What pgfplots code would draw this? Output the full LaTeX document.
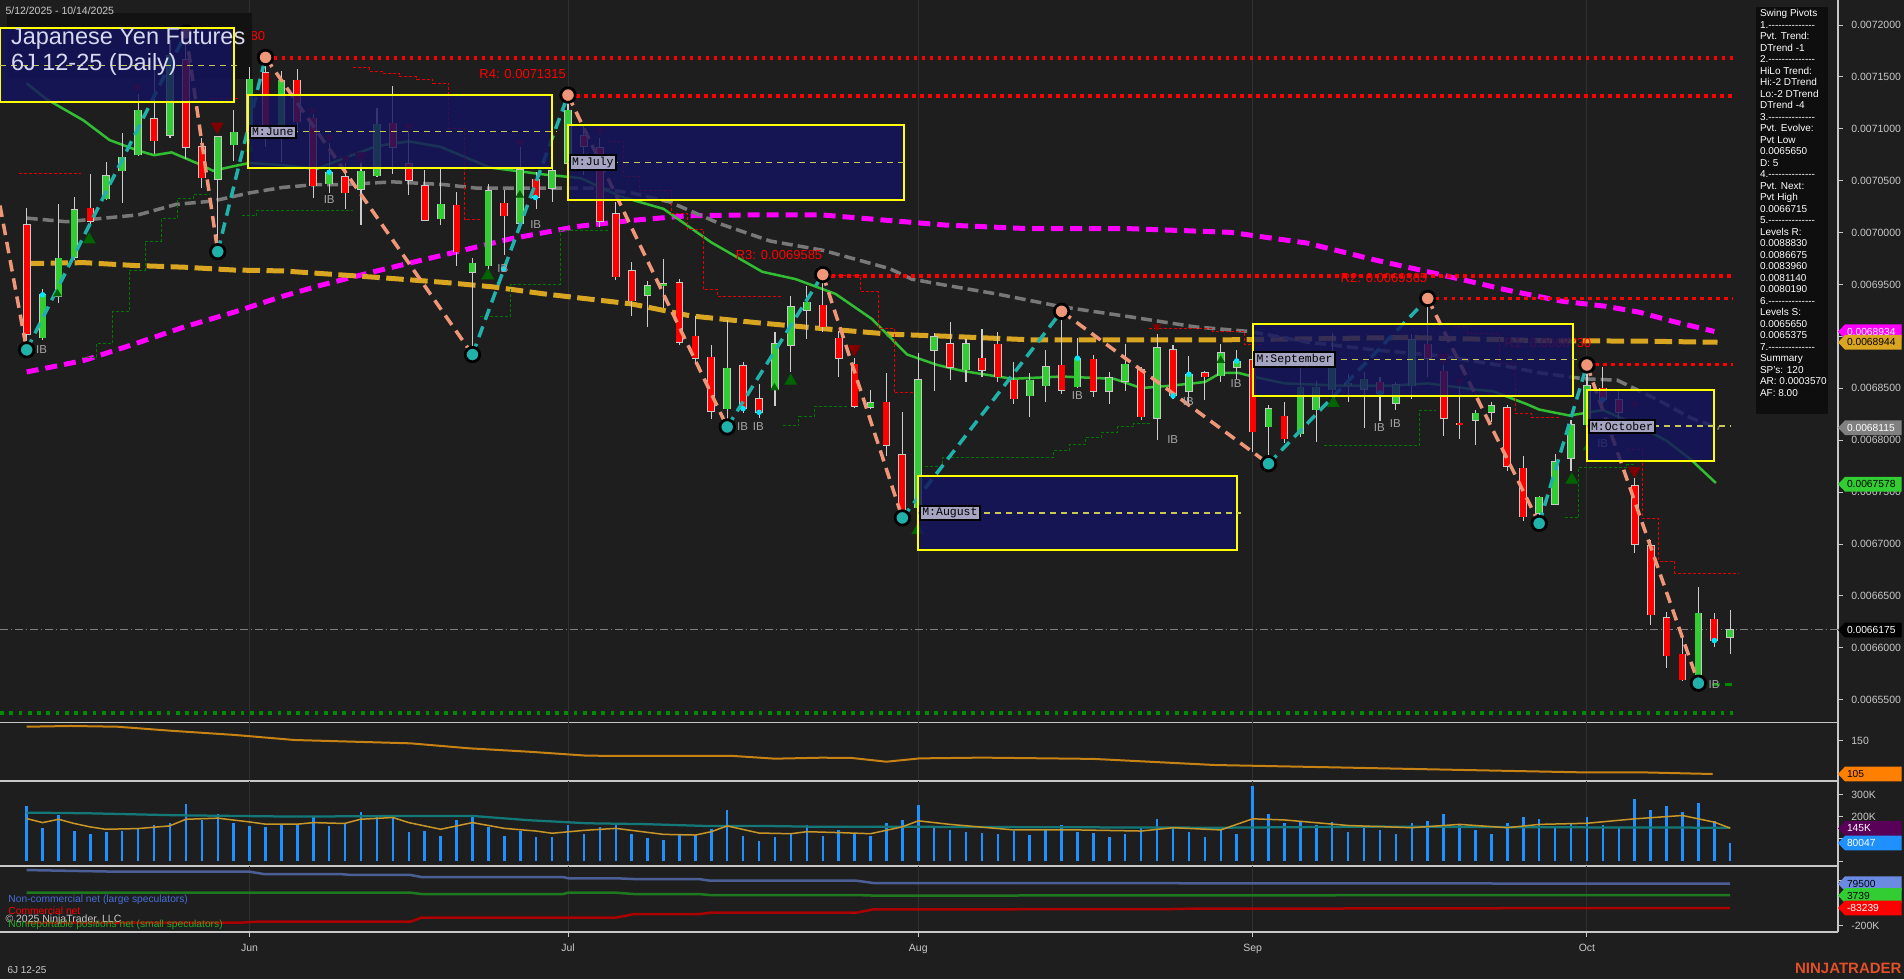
\documentclass[border=0pt]{standalone}
\usepackage{pgfplots}
\pgfplotsset{compat=1.18}
\usepackage{pgfplotstable}
\usepackage{fontspec}
\setmainfont{Liberation Sans}
\newfontfamily\monof{Liberation Mono}

\definecolor{bg}{RGB}{30,30,30}
\definecolor{cgreen}{RGB}{50,205,50}
\definecolor{cred}{RGB}{255,0,0}
\definecolor{wick}{RGB}{205,205,205}
\definecolor{bodyedge}{RGB}{200,200,200}
\definecolor{boxfill}{RGB}{20,20,95}
\definecolor{boxyel}{RGB}{255,255,0}
\definecolor{midyel}{RGB}{200,200,80}
\definecolor{salmonz}{RGB}{240,150,120}
\definecolor{tealz}{RGB}{32,178,170}
\definecolor{magz}{RGB}{255,0,255}
\definecolor{goldz}{RGB}{218,165,32}
\definecolor{grayma}{RGB}{120,120,120}
\definecolor{ma20}{RGB}{50,190,50}
\definecolor{axgray}{RGB}{200,200,200}
\definecolor{gridc}{RGB}{48,48,48}
\definecolor{lvlred}{RGB}{255,0,0}
\definecolor{sgreen}{RGB}{0,140,0}
\definecolor{stepred}{RGB}{230,0,0}
\definecolor{stepgreen}{RGB}{0,120,0}
\definecolor{dgreen}{RGB}{0,100,0}
\definecolor{dred}{RGB}{128,0,0}
\definecolor{ibgray}{RGB}{165,165,165}
\definecolor{labfill}{RGB}{165,165,195}
\definecolor{titlec}{RGB}{215,215,240}
\definecolor{titlebg}{RGB}{18,18,18}
\definecolor{volblue}{RGB}{30,144,255}
\definecolor{volorange}{RGB}{200,150,40}
\definecolor{volteal}{RGB}{20,120,120}
\definecolor{adxorange}{RGB}{200,130,20}
\definecolor{cotblue}{RGB}{70,110,220}
\definecolor{cotbluel}{RGB}{75,95,150}
\definecolor{cotgreen}{RGB}{40,170,40}
\definecolor{cotgreenl}{RGB}{30,120,30}
\definecolor{cotred}{RGB}{170,0,0}
\definecolor{pivbox}{RGB}{14,14,14}
\definecolor{ninja}{RGB}{225,80,40}
\definecolor{cyandot}{RGB}{0,230,255}

\newcommand\tickfont{\fontsize{4.2}{4.2}\selectfont}
\newcommand\rfont{\fontsize{5.2}{5.2}\selectfont}
\def\h{-\kern0pt}
\newcommand\dl{\h\h\h\h\h\h\h\h\h\h\h\h\h\h}

\newcommand\ptag[4]{%
  \fill[#2] (735.2pt,{(979-#1)*0.4pt}) -- ++(2.8pt,2.95pt) -- ++(22.6pt,0pt) -- ++(0pt,-5.9pt) -- ++(-22.6pt,0pt) -- cycle;
  \node[anchor=west, inner sep=0pt, text=#3, font=\fontsize{4.1}{4.1}\selectfont] at (738.6pt,{(979-#1)*0.4pt}) {#4};}

\pgfplotsset{
  panel/.style={
    scale only axis, width=735.2pt, anchor=north west,
    xmin=-1.677, xmax=113.77,
    axis x line*=bottom, axis y line*=right,
    axis line style={draw=axgray, line width=0.5pt},
    tick align=outside, major tick length=1.8pt,
    tick style={draw=axgray, line width=0.4pt},
    xtick={14,34,56,77,98}, xticklabels={},
    x tick style={draw=none},
    xmajorgrids, grid style={draw=gridc, line width=0.4pt},
    yticklabel style={font=\tickfont, text=axgray},
    clip mode=individual,
    /pgf/number format/assume math mode=true,
    scaled y ticks=false,
  },
  zz/.style={line width=1.4pt, dash pattern=on 4.6pt off 2.8pt},
  lvl/.style={lvlred, line width=1.5pt, dash pattern=on 1.5pt off 1.7pt},
  stp/.style={stepred, line width=0.4pt, dash pattern=on 1.2pt off 0.8pt, const plot},
  stpg/.style={stepgreen, line width=0.4pt, dash pattern=on 1.2pt off 0.8pt, const plot},
  mbox/.style={fill=boxfill, fill opacity=0.82, draw=boxyel, line width=0.8pt},
  mmid/.style={midyel, line width=0.6pt, dash pattern=on 2.4pt off 2pt},
  ebar/.style={draw=none, mark=none, error bars/y dir=both, error bars/y explicit, error bars/error mark=none},
}

\pgfplotstableread{
i O H L C
0 70074 70242 68946 69021
1 68990 69454 68968 69401
2 69388 70273 69322 69755
3 69764 70348 69742 70220
4 70237 70569 70074 70109
5 70330 70684 70313 70551
6 70596 70958 70286 70728
7 70751 71334 70737 71180
8 71100 71578 70759 70888
9 70936 71856 70914 71710
10 71666 71923 70715 70826
11 70826 70914 70428 70529
12 70516 70936 69875 70923
13 70848 71180 70693 70967
14 70914 71600 70781 71480
15 71542 71680 70826 70958
16 70914 71555 70684 71467
17 71467 71578 70958 71069
18 71100 71180 70330 70450
19 70472 70861 70383 70582
20 70538 70671 70228 70383
21 70419 70693 70074 70591
22 70551 71202 70538 71047
23 71056 71414 70569 70826
24 70666 70980 70361 70503
25 70450 70604 70109 70118
26 70136 70613 70074 70273
27 70264 70392 69676 69817
28 69618 69755 68857 69707
29 69684 70472 69631 70406
30 70282 70406 69786 70162
31 70091 70826 70074 70605
32 70516 70582 70228 70339
33 70428 70826 70295 70596
34 70671 71315 70649 71180
35 70936 71047 70560 70835
36 70817 70914 70051 70109
37 70184 70295 69543 69578
38 69631 69720 69198 69344
39 69397 69534 69092 69490
40 69490 69742 69278 69507
41 69521 69552 68915 68946
42 69003 69198 68747 68791
43 68800 68915 68207 68282
44 68305 69154 68105 68694
45 68716 68756 68260 68305
46 68402 68548 68216 68269
47 68490 69043 68327 68933
48 68915 69388 68658 69286
49 69251 69490 68977 69331
50 69300 69585 69048 69092
51 68981 69057 68605 68791
52 68733 68791 68313 68327
53 68318 68481 68305 68362
54 68366 68649 67853 67951
55 67862 68269 67243 67331
56 67353 68844 67309 68583
57 68866 69034 68472 68999
58 68933 69136 68579 68703
59 68681 68977 68561 68933
60 68791 69074 68614 68676
61 68924 69048 68561 68614
62 68579 68756 68349 68402
63 68428 68649 68225 68579
64 68525 68870 68371 68711
65 68724 69270 68446 68481
66 68517 68990 68503 68791
67 68782 68826 68415 68472
68 68472 68658 68349 68605
69 68570 68924 68472 68733
70 68680 68703 68194 68225
71 68216 69021 68004 68893
72 68871 68915 68393 68428
73 68472 68813 68327 68636
74 68649 68667 68393 68614
75 68623 68924 68561 68844
76 68702 68870 68592 68764
77 68778 68879 67884 68083
78 68128 68340 67796 68304
79 68234 68366 67973 68017
80 68061 68703 68030 68512
81 68296 68570 67986 68512
82 68490 69030 68349 68835
83 68526 68636 68371 68548
84 68490 68658 68119 68588
85 68561 68605 68181 68455
86 68357 68561 68296 68534
87 68526 69021 68402 68968
88 68924 69365 68614 68791
89 68667 68725 68039 68216
90 68163 68526 68017 68154
91 68194 68296 67959 68260
92 68269 68371 68172 68331
93 68313 68340 67707 67752
94 67729 67849 67221 67265
95 67296 67464 67154 67451
96 67384 67871 67375 67796
97 67827 68194 67707 68150
98 68150 68730 68105 68525
99 68503 68703 68349 68393
100 68393 68481 68128 68273
101 67561 67641 66911 67000
102 66986 67044 66225 66323
103 66292 66349 65805 65925
104 65938 66146 65686 65695
105 65739 66588 65650 66336
106 66278 66336 66004 66071
107 66102 66367 65938 66175
}\candles

\pgfplotstableread{
i v
0 248000
1 147000
2 208000
3 135000
4 120000
5 131000
6 135000
7 143000
8 163000
9 170000
10 256000
11 184000
12 212000
13 172000
14 158000
15 152000
16 166000
17 163000
18 202000
19 157000
20 170000
21 220000
22 208000
23 203000
24 131000
25 135000
26 113000
27 184000
28 208000
29 154000
30 113000
31 135000
32 108000
33 108000
34 163000
35 120000
36 151000
37 163000
38 120000
39 102000
40 93000
41 116000
42 116000
43 143000
44 229000
45 111000
46 89000
47 107000
48 123000
49 163000
50 111000
51 138000
52 120000
53 111000
54 170000
55 184000
56 253000
57 150000
58 140000
59 130000
60 125000
61 120000
62 135000
63 115000
64 140000
65 160000
66 130000
67 125000
68 110000
69 120000
70 150000
71 190000
72 150000
73 130000
74 110000
75 140000
76 120000
77 340000
78 210000
79 170000
80 180000
81 160000
82 175000
83 130000
84 150000
85 140000
86 120000
87 170000
88 180000
89 210000
90 160000
91 140000
92 120000
93 170000
94 200000
95 190000
96 150000
97 170000
98 200000
99 160000
100 150000
101 280000
102 230000
103 250000
104 220000
105 260000
106 180000
107 80047
}\vol

\begin{document}
\begin{tikzpicture}
\fill[bg] (0,0) rectangle (761.6pt,391.6pt);
\path[use as bounding box] (0,0) rectangle (761.6pt,391.6pt);

%================ PRICE PANEL ================
\begin{axis}[panel, at={(0pt,391.6pt)}, height=288.96pt,
  ymin=65282, ymax=72241,
  ytick={65500,66000,...,72000},
  yticklabels={0.0065500,0.0066000,0.0066500,0.0067000,0.0067500,0.0068000,0.0068500,,0.0069500,0.0070000,0.0070500,0.0071000,0.0071500,0.0072000},
]
% R5 label (mostly hidden under title box)
\node[anchor=east, text=lvlred, font=\rfont, inner sep=0pt] at (axis cs:15.0,71894) {R5: 0.0071680};
\fill[titlebg, fill opacity=0.95] (axis cs:-1.24,72116) rectangle (axis cs:14.15,71480);

% moving averages
\addplot[magz, line width=2pt, dash pattern=on 4.8pt off 2.8pt] coordinates {(0,68658) (3.6,68769) (6.7,68924) (9.9,69092) (13,69233) (16.1,69388) (18.4,69490) (22,69631) (26.2,69786) (30.4,69941) (34.6,70060) (38,70118) (41.5,70162) (45.7,70171) (49.9,70171) (54.1,70118) (57.6,70074) (63,70038) (69.3,70038) (75.6,70003) (80.4,69900) (84.6,69740) (88.8,69596) (93,69446) (96.4,69340) (99.2,69290) (101.3,69233) (103.4,69145) (106,69048)};
\addplot[goldz, line width=2pt, dash pattern=on 7pt off 2.6pt] coordinates {(0,69702) (3.6,69711) (6.7,69684) (9.9,69667) (13,69640) (16.1,69631) (18.2,69609) (22,69569) (26.2,69521) (29.3,69477) (32.5,69410) (38,69313) (41.7,69198) (45.9,69132) (50.1,69074) (54.3,69021) (57.6,69003) (63,68968) (69.3,68968) (75.6,68968) (80.4,68977) (86.6,68990) (93,68968) (95,68959) (101.3,68955) (106.2,68944)};
\addplot[grayma, line width=1.4pt, dash pattern=on 4.4pt off 2pt] coordinates {(0,70140) (2.5,70105) (7,70171) (9.4,70273) (11.7,70304) (14,70383) (16.1,70436) (18.2,70463) (19.9,70463) (23,70489) (26.2,70463) (28.3,70428) (32.5,70428) (35.6,70428) (38,70383) (40.4,70295) (43.6,70082) (46.7,69919) (50,69830) (52.1,69742) (54.2,69653) (55.6,69552) (57.5,69499) (60.9,69410) (65,69286) (69.3,69189) (73.4,69092) (76.8,69048) (80.4,68946) (84.6,68871) (88.8,68813) (93,68711) (95,68650) (97.8,68592) (99.9,68579) (102.4,68393) (104.5,68216) (106.3,68115)};
\addplot[ma20, line width=1pt] coordinates {(0,71439) (1.2,71290) (3.56,71082) (5.2,70892) (7,70790) (8,70746) (9.1,70773) (11,70649) (11.7,70596) (13,70640) (14,70671) (16.1,70650) (18.2,70613) (19.9,70715) (22,70835) (24,70879) (26,70826) (29.1,70627) (32.5,70560) (34.8,70525) (37.3,70348) (40,70229) (43,69906) (46.2,69623) (48.3,69552) (50.8,69410) (53.1,69167) (55.3,68826) (57.2,68725) (58.8,68667) (61.9,68592) (65,68614) (68.3,68592) (70,68503) (71.9,68526) (74,68561) (75,68649) (76.1,68649) (77,68614) (79,68548) (82.5,68526) (85.7,68526) (88,68548) (90.9,68490) (92.1,68472) (94.2,68349) (95,68296) (96.9,68238) (99,68291) (101.1,68150) (103,67995) (104.5,67818) (106.1,67588)};

% trailing step lines
\addplot[stp] coordinates {(-0.5,70569) (3.4,70569)};
\addplot[stp] coordinates {(11.5,71290) (13.3,71290)};
\addplot[stp] coordinates {(20.5,71586) (21.5,71555) (22.4,71533) (23.4,71502) (24.5,71476) (25.5,71436) (26.5,71003) (27.5,70127) (28.5,70127)};
\addplot[stp] coordinates {(36.5,70879) (37.5,70538) (38.5,70405) (40.5,70184) (41.5,70029) (42.5,69454) (43.4,69388) (47.5,69388)};
\addplot[stp] coordinates {(50.3,69587) (52.4,69432) (53.5,69079) (54.5,68459) (56.2,68459)};
\addplot[stp] coordinates {(70.5,69079) (74.5,69048) (76.5,68924) (77.5,68924)};
\addplot[stp] coordinates {(89.5,69092) (90.5,69025) (92.5,68738) (93.5,68260) (94.5,68216) (96.3,68216)};
\addplot[stp] coordinates {(100.5,67915) (101.5,67243) (102.5,66836) (103.5,66721) (107.5,66721)};
\addplot[stpg] coordinates {(3.45,68800) (4.4,68933) (5.4,69242) (6.45,69640) (7.45,69919) (8.45,70140) (9.46,70330) (10.46,70370) (11.47,70370)};
\addplot[stpg] coordinates {(13.5,70162) (14.45,70215) (20.5,70215)};
\addplot[stpg] coordinates {(28.5,69189) (30.4,69499) (33.5,70016) (36.5,70016)};
\addplot[stpg] coordinates {(47.5,68141) (48.5,68229) (49.5,68327) (51.5,68327)};
\addplot[stpg] coordinates {(56.4,67752) (57.5,67836) (64.5,67906) (65.5,67960) (66.5,68026) (67.5,68075) (68.5,68128) (69.5,68163) (70.6,68163)};
\addplot[stpg] coordinates {(81.5,67951) (87.5,68291) (88.5,68291)};
\addplot[stpg] coordinates {(96.6,67252) (97.5,67738) (100.5,67765) (101,67765)};

% level lines
\addplot[lvl] coordinates {(15,71680) (107.2,71680)};
\addplot[lvl] coordinates {(34,71315) (107.2,71315)};
\addplot[lvl] coordinates {(50,69585) (107.2,69585)};
\addplot[lvl] coordinates {(88,69365) (107.2,69365)};
\addplot[lvl] coordinates {(98,68730) (107.2,68730)};
\addplot[sgreen, line width=1.5pt, dash pattern=on 1.5pt off 2.2pt] coordinates {(-1.677,65375) (107.2,65375)};
\addplot[sgreen, line width=1.2pt, dash pattern=on 3pt off 2pt] coordinates {(105.1,65650) (107.2,65650)};
% current price
\addplot[gray, line width=0.5pt, dash pattern=on 3pt off 1.2pt on 0.6pt off 1.2pt] coordinates {(-1.677,66175) (113.77,66175)};

% candles: wicks, body edges, bodies
\addplot[ebar, error bars/error bar style={draw=wick, line width=0.45pt}]
  table[x=i, y expr={(\thisrow{H}+\thisrow{L})/2}, y error expr={(\thisrow{H}-\thisrow{L})/2}] {\candles};
\addplot[ebar, error bars/error bar style={draw=bodyedge, line width=3.1pt}]
  table[x=i, y expr={(\thisrow{O}+\thisrow{C})/2}, y error expr={abs(\thisrow{C}-\thisrow{O})/2+5}] {\candles};
\addplot[restrict expr to domain={\thisrow{C}-\thisrow{O}}{0:100000}, ebar,
  error bars/error bar style={draw=cgreen, line width=2.4pt}]
  table[x=i, y expr={(\thisrow{O}+\thisrow{C})/2}, y error expr={abs(\thisrow{C}-\thisrow{O})/2}] {\candles};
\addplot[restrict expr to domain={\thisrow{C}-\thisrow{O}}{-100000:-0.001}, ebar,
  error bars/error bar style={draw=cred, line width=2.4pt}]
  table[x=i, y expr={(\thisrow{O}+\thisrow{C})/2}, y error expr={abs(\thisrow{C}-\thisrow{O})/2}] {\candles};

% swing zigzag
\addplot[zz, salmonz] coordinates {(-1.677,70261) (0,68871)};
\addplot[zz, salmonz] coordinates {(10,71923) (12,69817)};
\addplot[zz, salmonz] coordinates {(15,71688) (28,68826)};
\addplot[zz, salmonz] coordinates {(34,71325) (44,68128)};
\addplot[zz, salmonz] coordinates {(50,69596) (55,67252)};
\addplot[zz, salmonz] coordinates {(65,69242) (78,67774)};
\addplot[zz, salmonz] coordinates {(88,69366) (95,67199)};
\addplot[zz, salmonz] coordinates {(98,68725) (105,65660)};
\addplot[zz, tealz] coordinates {(0,68871) (10,71923)};
\addplot[zz, tealz] coordinates {(12,69817) (15,71688)};
\addplot[zz, tealz] coordinates {(28,68826) (34,71325)};
\addplot[zz, tealz] coordinates {(44,68128) (50,69596)};
\addplot[zz, tealz] coordinates {(55,67252) (65,69242)};
\addplot[zz, tealz] coordinates {(78,67774) (88,69366)};
\addplot[zz, tealz] coordinates {(95,67199) (98,68725)};

% small cyan dots
\addplot[only marks, mark=*, mark size=0.9pt, mark options={draw=cyandot, fill=cyandot}] coordinates {(1,69401) (19,70582) (29.95,69650) (31.95,70339) (45,68305) (46,68269) (66,68791) (72,68428) (73,68636) (76,68764) (85,68455) (99,68393) (106,66071)};

% triangles
\addplot[only marks, mark=triangle*, mark size=2.6pt, mark options={fill=dgreen, draw=dgreen}] coordinates {(3.93,69932) (28.96,69587) (47.99,68571) (55.97,67133) (82.07,68358) (97.05,67619)};
\addplot[only marks, mark=triangle*, mark size=1.6pt, mark options={fill=dgreen, draw=dgreen}] coordinates {(1.93,69411) (30.97,70362) (46.97,68504) (14,70804) (75,68769) (98,67928)};
\addplot[only marks, mark=triangle*, mark size=2.6pt, mark options={rotate=180, fill=dred, draw=dred}] coordinates {(11.97,71024) (20.98,70737) (51.99,68880) (88.98,68800) (100.98,67708)};
\addplot[only marks, mark=triangle*, mark size=1.6pt, mark options={rotate=180, fill=dred, draw=dred}] coordinates {(6.95,71401) (17.94,71171) (19,70914) (20,70715) (23.99,71024) (30.97,70870) (35.99,70980) (70.98,69092) (89.99,68570) (100.98,68349)};

% pivot circles
\addplot[only marks, mark=*, mark size=2.9pt, mark options={draw=black, line width=1.1pt, fill=tealz}] coordinates {(0,68871) (12,69817) (28,68826) (44,68128) (55,67252) (78,67774) (95,67199) (105,65660)};
\addplot[only marks, mark=*, mark size=2.9pt, mark options={draw=black, line width=1.1pt, fill=salmonz}] coordinates {(10,71923) (15,71688) (34,71325) (50,69596) (65,69242) (88,69366) (98,68725)};

% IB labels
\addplot[draw=none, mark=none, nodes near coords={IB}, every node near coord/.style={anchor=center, inner sep=0pt, font=\fontsize{4.6}{4.6}\selectfont, text=ibgray}] coordinates {(0.94,68870) (19,70317) (29.9,69654) (31.97,70074) (44.97,68128) (45.95,68128) (65.99,68428) (71.98,68004) (72.96,68371) (75.96,68548) (84.96,68119) (85.97,68163) (98.99,67964) (105.98,65643)};

% R1 label (under Sept box)
\node[anchor=east, text=lvlred, font=\rfont, inner sep=0pt] at (axis cs:98.3,68933) {R1: 0.0068730};

% monthly boxes
\addplot[mbox] coordinates {(-1.677,71971) (13.0,71971) (13.0,71261) (-1.677,71261)} -- cycle;
\addplot[mmid] coordinates {(-1.677,71609) (13.3,71609)};
\addplot[mbox] coordinates {(13.9,71325) (33.0,71325) (33.0,70627) (13.9,70627)} -- cycle;
\addplot[mmid] coordinates {(13.9,70972) (33.3,70972)};
\addplot[mbox] coordinates {(34.0,71033) (55.1,71033) (55.1,70317) (34.0,70317)} -- cycle;
\addplot[mmid] coordinates {(34.0,70675) (55.4,70675)};
\addplot[mbox] coordinates {(56.0,67654) (76.0,67654) (76.0,66947) (56.0,66947)} -- cycle;
\addplot[mmid] coordinates {(56.0,67300) (76.3,67300)};
\addplot[mbox] coordinates {(77.0,69118) (97.1,69118) (97.1,68428) (77.0,68428)} -- cycle;
\addplot[mmid] coordinates {(77.0,68778) (97.4,68778)};
\addplot[mbox] coordinates {(98.0,68481) (106.0,68481) (106.0,67805) (98.0,67805)} -- cycle;
\addplot[mmid] coordinates {(98.0,68136) (107.0,68136)};

% month labels
\tikzset{mlab/.style={anchor=west, fill=labfill, draw=black, line width=0.8pt, inner sep=0.9pt, text=black, font=\monof\fontsize{4.6}{4.6}\selectfont}}
\node[mlab] at (axis cs:13.95,70972) {M:June};
\node[mlab] at (axis cs:34.05,70675) {M:July};
\node[mlab] at (axis cs:56.05,67300) {M:August};
\node[mlab] at (axis cs:77.05,68778) {M:September};
\node[mlab] at (axis cs:98.05,68136) {M:October};

% level labels
\node[anchor=east, text=lvlred, font=\rfont, inner sep=0pt] at (axis cs:33.9,71524) {R4: 0.0071315};
\node[anchor=east, text=lvlred, font=\rfont, inner sep=0pt] at (axis cs:50.0,69787) {R3: 0.0069585};
\node[anchor=east, text=lvlred, font=\rfont, inner sep=0pt] at (axis cs:88.0,69565) {R2: 0.0069365};
\end{axis}

%================ PANEL 2 ================
\begin{axis}[panel, at={(0pt,102.64pt)}, height=23.44pt,
  ymin=95.6, ymax=174.3, ytick={150}, yticklabels={150}]
\addplot[adxorange, line width=0.8pt] coordinates {(0,168.5) (2.75,169.5) (5.7,168.5) (9.0,163.2) (13.1,157.4) (16.8,150.7) (24.1,146.2) (27.8,139.5) (31.5,135.0) (35.2,129.6) (38.9,129.2) (44.4,129.2) (47.0,125.6) (49.9,126.9) (51.8,126.6) (54.0,121.5) (56.1,126.0) (60,127) (67,125.3) (74.6,117.1) (82.2,113.9) (89.8,110.6) (97.5,107.3) (101.3,107.3) (105.9,105)};
\end{axis}

%================ VOLUME PANEL ================
\begin{axis}[panel, at={(0pt,79.2pt)}, height=34pt,
  ymin=-22522, ymax=360360, ytick={0,100000,200000,300000}, yticklabels={,,200K,300K}]
\addplot[ycomb, draw=volblue, line width=1pt] table[x=i, y=v] {\vol};
\addplot[volteal, line width=0.9pt] coordinates {(0,218000) (3.85,215000) (9.4,206000) (16.8,200000) (24.1,203000) (28,203000) (31.5,184000) (35.2,170000) (38.9,166000) (42.6,158000) (46.2,158000) (49.9,154000) (56,154000) (65,152000) (75,150000) (85,155000) (95,152000) (107,150000)};
\addplot[volorange, line width=0.6pt] coordinates {(0,191000) (1,173000) (2,188000) (2.93,170000) (3.96,154000) (4.96,143000) (6.95,146000) (8.97,158000) (10,188000) (12,193000) (14,176000) (15,166000) (17,166000) (18,173000) (19.96,169000) (20.96,188000) (23,196000) (24,173000) (26,143000) (28,173000) (30,147000) (32,135000) (33,125000) (35,138000) (37,147000) (38,138000) (40,120000) (42,117000) (43,132000) (44,158000) (46,126000) (48,123000) (49,132000) (51,128000) (53,123000) (55,154000) (56,181000) (58,165000) (62,140000) (66,140000) (70,135000) (72,150000) (75,140000) (77,190000) (79,185000) (83,160000) (87,150000) (90,165000) (93,150000) (95,165000) (98,170000) (101,190000) (104,205000) (106,175000) (107,148000)};
\end{axis}

%================ COT PANEL ================
\begin{axis}[panel, at={(0pt,45.2pt)}, height=26.4pt,
  ymin=-244110, ymax=198090, ytick={-200000,0,100000}, yticklabels={-200K,,},
  x tick style={draw=axgray, line width=0.4pt},
  xticklabels={Jun,Jul,Aug,Sep,Oct}, xticklabel style={font=\tickfont, text=axgray, yshift=0.4pt}]
\addplot[cotbluel, line width=1pt] coordinates {(0,171000) (5.7,160000) (14,160000) (14.9,144000) (19.7,144000) (20.4,138000) (24.1,138000) (24.8,124000) (33.7,124000) (34,116000) (37,116000) (38.1,111000) (42.2,111000) (42.9,100000) (52.1,100000) (53.2,84000) (62,84000) (63,83000) (72,83000) (73,82000) (82,82000) (83,81000) (92,81000) (93,80000) (102,80000) (103,79500) (107,79500)};
\addplot[cotgreenl, line width=1pt] coordinates {(0,19400) (24.1,19400) (24.8,10500) (33.7,10500) (34,19400) (37,19400) (38.1,10500) (42.2,10500) (42.9,3800) (52.1,3800) (53.2,0) (62,0) (63,2000) (82,2000) (83,3000) (102,3000) (103,3739) (107,3739)};
\addplot[cotred, line width=1pt] coordinates {(0,-181000) (13.5,-181000) (14.5,-175000) (24.1,-175000) (24.8,-148000) (37,-148000) (38.1,-125000) (42.2,-125000) (42.9,-115000) (52.1,-115000) (53.2,-92000) (62,-92000) (63,-90000) (72,-90000) (73,-88000) (82,-88000) (83,-86000) (92,-86000) (93,-84000) (102,-84000) (103,-83239) (107,-83239)};
\end{axis}

% COT legend
\node[anchor=base west, inner sep=0pt, text=cotblue, font=\fontsize{4.1}{4.1}\selectfont] at (3.2pt,{(979-902)*0.4pt}) {Non-commercial net (large speculators)};
\node[anchor=base west, inner sep=0pt, text=cred, font=\fontsize{4.1}{4.1}\selectfont] at (3.2pt,{(979-914.5)*0.4pt}) {Commercial net};
\node[anchor=base west, inner sep=0pt, text=axgray, font=\fontsize{4.2}{4.2}\selectfont] at (2pt,{(979-922)*0.4pt}) {\textcopyright{} 2025 NinjaTrader, LLC};
\node[anchor=base west, inner sep=0pt, text=cotgreen, font=\fontsize{4.1}{4.1}\selectfont] at (3.2pt,{(979-927.5)*0.4pt}) {Nonreportable positions net (small speculators)};

% titles and texts
\node[anchor=base west, inner sep=0pt, text=axgray, font=\fontsize{4.2}{4.2}\selectfont] at (2pt,385.6pt) {5/12/2025 - 10/14/2025};
\node[anchor=base west, inner sep=0pt, text=titlec, font=\fontsize{9.4}{9.4}\selectfont] at (4.2pt,{(979-44)*0.4pt}) {Japanese Yen Futures};
\node[anchor=base west, inner sep=0pt, text=titlec, font=\fontsize{9.4}{9.4}\selectfont] at (4.2pt,{(979-70)*0.4pt}) {6J 12-25 (Daily)};
\node[anchor=base west, inner sep=0pt, text=axgray, font=\fontsize{4}{4}\selectfont] at (2.8pt,2.4pt) {6J 12-25};
\node[anchor=base east, inner sep=0pt, text=ninja, font=\bfseries\fontsize{6}{6}\selectfont] at (760.8pt,2.2pt) {NINJATRADER};

% swing pivots box
\fill[pivbox] (702.4pt,388.8pt) rectangle (731.2pt,226pt);
\node[anchor=north west, inner sep=0pt, align=left, text=white, font=\fontsize{4}{4.6}\selectfont] at (703.8pt,388pt) {Swing Pivots\\1.\dl\\Pvt. Trend:\\DTrend -1\\2.\dl\\HiLo Trend:\\Hi:-2 DTrend\\Lo:-2 DTrend\\DTrend -4\\3.\dl\\Pvt. Evolve:\\Pvt Low\\0.0065650\\D: 5\\4.\dl\\Pvt. Next:\\Pvt High\\0.0066715\\5.\dl\\Levels R:\\0.0088830\\0.0086675\\0.0083960\\0.0081140\\0.0080190\\6.\dl\\Levels S:\\0.0065650\\0.0065375\\7.\dl\\Summary\\SP's: 120\\AR: 0.0003570\\AF: 8.00};

% price tags
\ptag{331.7}{magz}{white}{0.0068934}
\ptag{342.3}{goldz}{black}{0.0068944}
\ptag{427.7}{gray}{white}{0.0068115}
\ptag{484.2}{cgreen}{black}{0.0067578}
\ptag{630}{black}{white}{0.0066175}
\ptag{774}{orange}{black}{105}
\ptag{828.4}{violet!70!black}{white}{145K}
\ptag{843.1}{volblue}{white}{80047}
\ptag{883.7}{cotblue!80!white}{black}{79500}
\ptag{895.6}{cgreen}{black}{3739}
\ptag{908}{cred}{white}{-83239}
\end{tikzpicture}
\end{document}
